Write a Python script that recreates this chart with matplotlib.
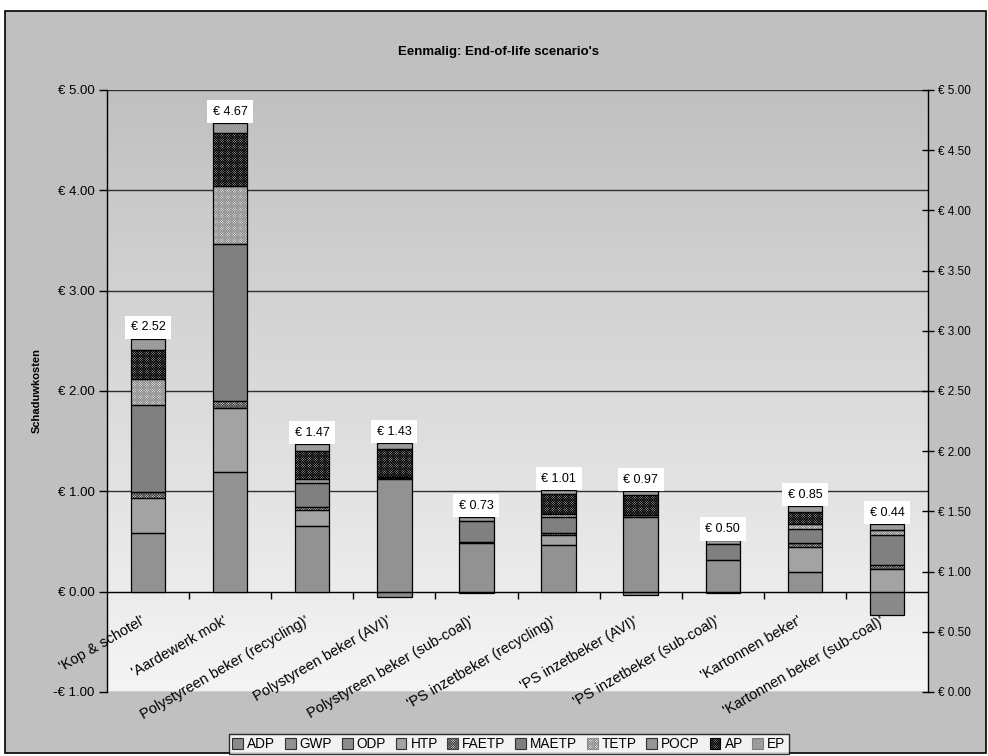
import numpy as np
import matplotlib
matplotlib.use("Agg")
import matplotlib.pyplot as plt
from matplotlib.patches import Rectangle, Patch

plt.rcParams['font.family'] = ['Liberation Sans', 'DejaVu Sans']
plt.rcParams['hatch.linewidth'] = 0.5

categories = ["'Kop & schotel'", "'Aardewerk mok'", "Polystyreen beker (recycling)'",
              "Polystyreen beker (AVI)'", "Polystyreen beker (sub-coal)'",
              "'PS inzetbeker (recycling)'", "'PS inzetbeker (AVI)'",
              "'PS inzetbeker (sub-coal)'", "'Kartonnen beker'",
              "'Kartonnen beker (sub-coal)'"]

# schaduwkosten per impact category (euro)
adp = [0.00, 0.00, 0.00, -0.05, -0.01, 0.00, -0.03, -0.01, 0.00, -0.23]
gwp = [0.58, 1.19, 0.65, 1.12, 0.48, 0.46, 0.74, 0.32, 0.20, 0.00]
odp = [0.00, 0.00, 0.00, 0.00, 0.00, 0.00, 0.00, 0.00, 0.00, 0.00]
htp = [0.35, 0.64, 0.16, 0.00, 0.00, 0.10, 0.00, 0.00, 0.24, 0.23]
faetp = [0.06, 0.07, 0.03, 0.00, 0.01, 0.02, 0.00, 0.00, 0.04, 0.04]
maetp = [0.87, 1.56, 0.24, 0.01, 0.21, 0.16, 0.02, 0.15, 0.14, 0.29]
tetp = [0.26, 0.58, 0.04, 0.01, 0.00, 0.03, 0.00, 0.00, 0.05, 0.05]
pocp = [0.00, 0.00, 0.00, 0.00, 0.00, 0.00, 0.00, 0.00, 0.00, 0.00]
ap = [0.29, 0.53, 0.28, 0.28, 0.00, 0.20, 0.20, 0.00, 0.12, 0.00]
ep = [0.11, 0.10, 0.07, 0.06, 0.04, 0.04, 0.04, 0.04, 0.06, 0.06]

series_names = ['ADP', 'GWP', 'ODP', 'HTP', 'FAETP', 'MAETP', 'TETP', 'POCP', 'AP', 'EP']
series_values = [adp, gwp, odp, htp, faetp, maetp, tetp, pocp, ap, ep]

left_ticks = [-1, 0, 1, 2, 3, 4, 5]
left_tick_labels = ['-€ 1.00', '€ 0.00', '€ 1.00', '€ 2.00', '€ 3.00', '€ 4.00', '€ 5.00']
right_ticks = [0, 0.5, 1, 1.5, 2, 2.5, 3, 3.5, 4, 4.5, 5]
right_tick_labels = ['€ 0.00', '€ 0.50', '€ 1.00', '€ 1.50', '€ 2.00', '€ 2.50',
                     '€ 3.00', '€ 3.50', '€ 4.00', '€ 4.50', '€ 5.00']

# fill / hatch styling per series (face, hatch, hatch colour)
styles = {
    'ADP':   ('#8a8a8a', None, None),
    'GWP':   ('#929292', None, None),
    'ODP':   ('#8c8c8c', None, None),
    'HTP':   ('#a3a3a3', None, None),
    'FAETP': ('#f0f0f0', 'x' * 14, '#404040'),
    'MAETP': ('#808080', None, None),
    'TETP':  ('#f2f2f2', 'x' * 14, '#8a8a8a'),
    'POCP':  ('#959595', None, None),
    'AP':    ('#a8a8a8', 'x' * 14, '#000000'),
    'EP':    ('#a4a4a4', '.' * 8, '#808080'),
}

fig = plt.figure(figsize=(9.88, 7.56), dpi=100, facecolor='white')
fig.add_artist(Rectangle((0.005, 0.004), 0.993, 0.981, transform=fig.transFigure,
                         facecolor='#c0c0c0', edgecolor='black', linewidth=1.2, zorder=-1))

ax = fig.add_axes([0.1083, 0.0847, 0.8310, 0.7963])
ax.set_facecolor('none')

x = np.arange(len(categories))
width = 0.42

# plot area gradient
grad = np.linspace(0, 1, 256).reshape(-1, 1)
ax.imshow(grad, extent=[-0.5, 9.5, -1, 5], aspect='auto', origin='lower',
          cmap=matplotlib.colors.LinearSegmentedColormap.from_list('bg', ['#f5f5f5', '#c0c0c0']),
          zorder=0)

pos_bottom = np.zeros(len(categories))
neg_bottom = np.zeros(len(categories))
for name, vals in zip(series_names, series_values):
    vals = np.array(vals)
    face, hatch, hcol = styles[name]
    for i, v in enumerate(vals):
        if v == 0:
            continue
        if v > 0:
            b = pos_bottom[i]
            pos_bottom[i] += v
        else:
            b = neg_bottom[i]
            neg_bottom[i] += v
        ax.bar(x[i], v, width, bottom=b, color=face, hatch=hatch,
               edgecolor=hcol if hatch else face, linewidth=0, zorder=3)
        ax.bar(x[i], v, width, bottom=b, facecolor='none', edgecolor='black',
               linewidth=0.9, zorder=4)

totals = pos_bottom + neg_bottom
for i in x:
    ax.annotate(f'€ {totals[i]:.2f}', (x[i], pos_bottom[i]), xytext=(0, 4),
                textcoords='offset points', ha='center', va='bottom', fontsize=9,
                bbox=dict(boxstyle='square,pad=0.45', facecolor='white', edgecolor='none'),
                zorder=6)

ax.set_xlim(-0.5, 9.5)
ax.set_ylim(-1, 5)
ax.set_yticks(left_ticks)
ax.set_yticklabels(left_tick_labels, fontsize=9.5)
ax.tick_params(axis='y', direction='out', length=6, width=1, pad=3)
ax.yaxis.grid(True, color='#303030', linewidth=1)
ax.set_axisbelow(True)

ax.spines['bottom'].set_position(('data', 0))
ax.spines['top'].set_visible(False)
ax.spines['right'].set_visible(False)
ax.spines['left'].set_linewidth(1)
ax.set_xticks(x[:-1] + 0.5)
ax.set_xticklabels([])
ax.tick_params(axis='x', which='major', direction='out', length=5, width=1)
ax.set_xticks(x - 0.09, minor=True)
ax.set_xticklabels(categories, minor=True, rotation=30, ha='right', va='top',
                   rotation_mode='anchor', fontsize=10.5)
ax.tick_params(axis='x', which='minor', length=0, pad=16)

ax.set_ylabel('Schaduwkosten', fontsize=8, fontweight='bold', labelpad=8)

ax2 = ax.twinx()
ax2.set_ylim(0, 5)
ax2.set_yticks(right_ticks)
ax2.set_yticklabels(right_tick_labels, fontsize=8.5)
ax2.tick_params(axis='y', direction='inout', length=8, width=1, pad=3)
for side in ['top', 'bottom', 'left']:
    ax2.spines[side].set_visible(False)
ax2.spines['right'].set_linewidth(1)

fig.text(0.505, 0.931, "Eenmalig: End-of-life scenario's", ha='center', va='center',
         fontsize=9.5, fontweight='bold')

handles = []
for name in series_names:
    face, hatch, hcol = styles[name]
    handles.append(Patch(facecolor=face, hatch=hatch,
                         edgecolor=hcol if hatch else '#303030', linewidth=0.8))
leg = fig.legend(handles, series_names, loc='lower center', bbox_to_anchor=(0.515, 0.002),
                 ncol=10, fontsize=9.8, frameon=True, fancybox=False, edgecolor='black',
                 handlelength=0.8, handleheight=0.8, handletextpad=0.3, columnspacing=0.7,
                 borderpad=0.25, borderaxespad=0)
leg.get_frame().set_linewidth(1)

fig.savefig('out.png', dpi=100)
